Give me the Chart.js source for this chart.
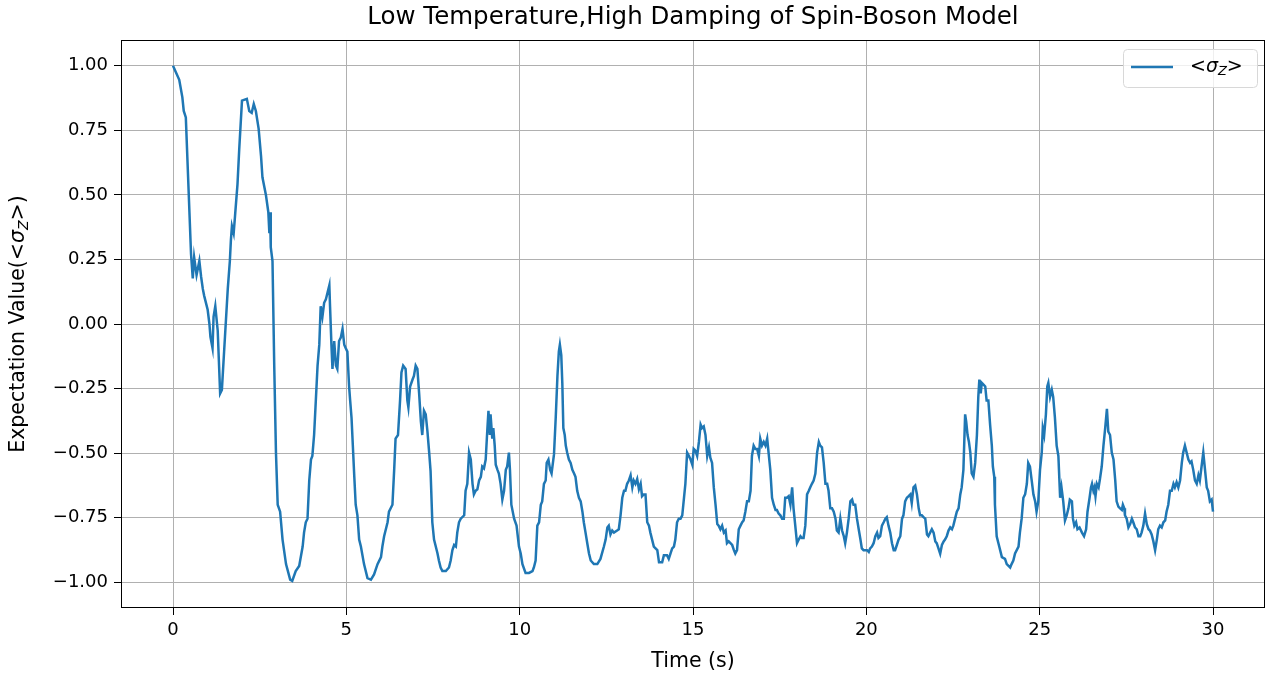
<!DOCTYPE html>
<html lang="en">
<head>
<meta charset="UTF-8">
<title>Spin-Boson Model</title>
<script src="https://cdn.jsdelivr.net/npm/chart.js"></script>
<style>
  html, body { margin: 0; padding: 0; background: #fff; }
  #wrap { width: 1274px; height: 677px; position: relative; }
</style>
</head>
<body>
<div id="wrap"><canvas id="chart"></canvas></div>
<script>
// time axis (s) and <sigma_z>
const times = [
  0.00, 0.18, 0.27, 0.31, 0.37, 0.52, 0.57, 0.61, 0.68, 0.76, 0.81, 0.86, 0.90, 1.00, 1.05, 1.08, 1.14, 1.17, 1.22, 1.29,
  1.36, 1.41, 1.48, 1.58, 1.64, 1.67, 1.70, 1.75, 1.79, 1.86, 1.91, 1.99, 2.13, 2.20, 2.27, 2.33, 2.39, 2.47, 2.54, 2.58,
  2.68, 2.75, 2.78, 2.80, 2.82, 2.87, 2.92, 2.97, 3.02, 3.09, 3.16, 3.26, 3.38, 3.44,
  3.54, 3.64, 3.74, 3.78, 3.83, 3.88, 3.93, 3.98, 4.02, 4.07, 4.12, 4.17, 4.22, 4.26, 4.31, 4.36, 4.41, 4.46, 4.51, 4.53,
  4.57, 4.60, 4.65, 4.70, 4.74, 4.79, 4.84, 4.89, 4.94, 4.98, 5.03, 5.08, 5.11, 5.15, 5.23, 5.27, 5.32, 5.37, 5.42, 5.51,
  5.61, 5.71, 5.80, 5.90, 6.00, 6.04, 6.09, 6.19, 6.23, 6.33, 6.38, 6.42, 6.49, 6.55, 6.59, 6.64, 6.71, 6.76, 6.79, 6.84,
  6.91, 6.95, 7.00, 7.05, 7.10, 7.15, 7.19, 7.24, 7.29, 7.34, 7.39, 7.43, 7.48, 7.53, 7.58, 7.63, 7.67, 7.72, 7.77, 7.87,
  7.96, 8.01, 8.06, 8.11, 8.16, 8.20, 8.25, 8.30, 8.40, 8.44, 8.49, 8.54, 8.59, 8.64, 8.68, 8.73, 8.78, 8.83, 8.88, 8.92,
  8.97, 9.02, 9.07, 9.10, 9.14, 9.16, 9.21, 9.24, 9.28, 9.31, 9.36, 9.40, 9.45, 9.50, 9.55, 9.60, 9.64, 9.69, 9.72, 9.76,
  9.84, 9.91, 9.98, 10.03, 10.08, 10.17, 10.27, 10.37, 10.41, 10.46, 10.51, 10.56, 10.61, 10.65, 10.70, 10.75, 10.78, 10.83, 10.88, 10.92,
  10.99, 11.04, 11.09, 11.13, 11.16, 11.20, 11.23, 11.26, 11.30, 11.33, 11.37, 11.42, 11.47, 11.52, 11.57, 11.61, 11.66, 11.71, 11.76, 11.81,
  11.85, 11.90, 11.95, 12.00, 12.05, 12.14, 12.24, 12.33, 12.43, 12.48, 12.53, 12.57, 12.62, 12.67, 12.72, 12.81, 12.86, 12.91, 12.96, 13.01,
  13.05, 13.10, 13.15, 13.20, 13.25, 13.29, 13.34, 13.39, 13.44, 13.49, 13.53, 13.58, 13.63, 13.68, 13.73, 13.77, 13.82, 13.87, 13.92, 13.97,
  14.02, 14.11, 14.16, 14.25, 14.30, 14.35, 14.40, 14.45, 14.49, 14.54, 14.59, 14.64, 14.69, 14.74, 14.78, 14.83, 14.88, 14.93, 14.98, 15.02,
  15.07, 15.12, 15.17, 15.22, 15.26, 15.31, 15.36, 15.41, 15.46, 15.50, 15.55, 15.60, 15.65, 15.70, 15.74, 15.79, 15.84, 15.89, 15.94, 15.98,
  16.03, 16.08, 16.13, 16.18, 16.22, 16.27, 16.32, 16.37, 16.42, 16.46, 16.51, 16.56, 16.61, 16.66, 16.70, 16.75, 16.80, 16.85, 16.90, 16.94,
  16.99, 17.04, 17.09, 17.14, 17.18, 17.23, 17.28, 17.33, 17.38, 17.42, 17.47, 17.52, 17.57, 17.62, 17.66, 17.71, 17.76, 17.81, 17.86, 17.90,
  17.95, 18.00, 18.05, 18.10, 18.14, 18.19, 18.24, 18.29, 18.34, 18.38, 18.43, 18.48, 18.53, 18.58, 18.63, 18.67, 18.72, 18.77, 18.82, 18.87,
  18.91, 18.96, 19.01, 19.06, 19.11, 19.15, 19.20, 19.25, 19.30, 19.35, 19.39, 19.44, 19.49, 19.54, 19.59, 19.63, 19.68, 19.73, 19.78, 19.83,
  19.87, 19.92, 20.02, 20.07, 20.11, 20.16, 20.21, 20.26, 20.31, 20.35, 20.40, 20.45, 20.50, 20.55, 20.59, 20.64, 20.69, 20.74, 20.79, 20.83,
  20.88, 20.93, 20.98, 21.03, 21.07, 21.12, 21.17, 21.22, 21.27, 21.31, 21.36, 21.41, 21.46, 21.51, 21.55, 21.60, 21.65, 21.70, 21.75, 21.79,
  21.84, 21.89, 21.94, 21.99, 22.03, 22.08, 22.13, 22.18, 22.23, 22.27, 22.32, 22.37, 22.42, 22.47, 22.51, 22.56, 22.61, 22.66, 22.71, 22.75,
  22.80, 22.85, 22.88, 22.92, 22.96, 23.00, 23.04, 23.09, 23.14, 23.19, 23.23, 23.26, 23.30, 23.33, 23.38, 23.43, 23.47, 23.52, 23.57, 23.62,
  23.65, 23.69, 23.71, 23.76, 23.81, 23.86, 23.91, 24.00, 24.05, 24.15, 24.19, 24.24, 24.29, 24.39, 24.43, 24.48, 24.53, 24.58, 24.63, 24.67,
  24.72, 24.77, 24.82, 24.87, 24.91, 24.96, 25.01, 25.06, 25.09, 25.13, 25.18, 25.22, 25.25, 25.30, 25.35, 25.39, 25.44, 25.49, 25.54, 25.59,
  25.63, 25.68, 25.73, 25.78, 25.83, 25.87, 25.93, 25.96, 26.00, 26.05, 26.09, 26.15, 26.22, 26.28, 26.34, 26.38, 26.44, 26.48, 26.51, 26.55,
  26.58, 26.61, 26.65, 26.70, 26.74, 26.79, 26.84, 26.89, 26.94, 26.98, 27.03, 27.08, 27.13, 27.18, 27.22, 27.27, 27.32, 27.37, 27.40, 27.44,
  27.46, 27.51, 27.56, 27.61, 27.66, 27.70, 27.75, 27.80, 27.85, 27.90, 27.94, 27.99, 28.04, 28.09, 28.14, 28.18, 28.23, 28.28, 28.33, 28.38,
  28.42, 28.47, 28.52, 28.57, 28.62, 28.66, 28.71, 28.76, 28.81, 28.86, 28.90, 28.95, 29.00, 29.05, 29.10, 29.14, 29.19, 29.24, 29.29, 29.34,
  29.38, 29.43, 29.48, 29.53, 29.58, 29.62, 29.67, 29.72, 29.77, 29.82, 29.86, 29.91, 29.96, 30.00
];
const sigmaZ = [
  1.000, 0.946, 0.878, 0.825, 0.800, 0.271, 0.177, 0.258, 0.190, 0.244, 0.184, 0.136, 0.109, 0.055, 0.001, -0.050, -0.093, 0.028, 0.069, -0.026,
  -0.269, -0.255, -0.093, 0.136, 0.244, 0.325, 0.379, 0.352, 0.420, 0.541, 0.676, 0.865, 0.872, 0.825, 0.818, 0.852, 0.825, 0.757, 0.649, 0.568,
  0.500, 0.433, 0.352, 0.433, 0.298, 0.244, -0.160, -0.498, -0.700, -0.727, -0.835, -0.930, -0.990, -0.995,
  -0.957, -0.937, -0.862, -0.808, -0.768, -0.754, -0.606, -0.525, -0.511, -0.430, -0.296, -0.161, -0.080, 0.069, 0.028, 0.082, 0.096, 0.123, 0.150, 0.069,
  -0.080, -0.174, -0.066, -0.161, -0.174, -0.066, -0.053, -0.019, -0.080, -0.093, -0.107, -0.242, -0.296, -0.363, -0.592, -0.700, -0.741, -0.835, -0.862, -0.930,
  -0.984, -0.990, -0.970, -0.930, -0.903, -0.862, -0.822, -0.768, -0.727, -0.700, -0.565, -0.444, -0.430, -0.296, -0.188, -0.161, -0.174, -0.296, -0.323, -0.242,
  -0.215, -0.201, -0.161, -0.174, -0.269, -0.377, -0.430, -0.336, -0.350, -0.417, -0.498, -0.570, -0.768, -0.835, -0.862, -0.889, -0.916, -0.943, -0.957, -0.957,
  -0.943, -0.916, -0.876, -0.856, -0.862, -0.808, -0.768, -0.754, -0.741, -0.646, -0.619, -0.498, -0.525, -0.619, -0.660, -0.646, -0.640, -0.606, -0.592, -0.552,
  -0.559, -0.525, -0.403, -0.336, -0.430, -0.350, -0.444, -0.403, -0.471, -0.545, -0.565, -0.579, -0.619, -0.680, -0.646, -0.565, -0.552, -0.498, -0.565, -0.700,
  -0.754, -0.781, -0.862, -0.889, -0.930, -0.964, -0.964, -0.957, -0.943, -0.916, -0.781, -0.768, -0.700, -0.687, -0.619, -0.606, -0.538, -0.525, -0.565, -0.579,
  -0.505, -0.363, -0.200, -0.107, -0.080, -0.120, -0.228, -0.403, -0.430, -0.471, -0.498, -0.525, -0.538, -0.565, -0.579, -0.592, -0.646, -0.673, -0.687, -0.727,
  -0.768, -0.808, -0.849, -0.889, -0.916, -0.930, -0.930, -0.910, -0.862, -0.835, -0.788, -0.781, -0.815, -0.800, -0.808, -0.800, -0.795, -0.741, -0.673, -0.646,
  -0.646, -0.619, -0.606, -0.586, -0.633, -0.606, -0.619, -0.600, -0.640, -0.619, -0.667, -0.660, -0.660, -0.768, -0.781, -0.808, -0.835, -0.862, -0.869, -0.876,
  -0.923, -0.923, -0.896, -0.896, -0.910, -0.889, -0.869, -0.862, -0.835, -0.768, -0.754, -0.754, -0.741, -0.673, -0.619, -0.498, -0.511, -0.525, -0.545, -0.484,
  -0.491, -0.511, -0.457, -0.390, -0.403, -0.397, -0.430, -0.511, -0.478, -0.518, -0.538, -0.633, -0.700, -0.775, -0.781, -0.795, -0.781, -0.808, -0.800, -0.849,
  -0.842, -0.849, -0.856, -0.876, -0.889, -0.876, -0.795, -0.781, -0.768, -0.761, -0.727, -0.687, -0.687, -0.646, -0.511, -0.471, -0.484, -0.484, -0.511, -0.444,
  -0.471, -0.457, -0.471, -0.444, -0.498, -0.565, -0.673, -0.700, -0.720, -0.720, -0.734, -0.741, -0.754, -0.754, -0.673, -0.673, -0.667, -0.700, -0.633, -0.714,
  -0.781, -0.849, -0.835, -0.822, -0.829, -0.829, -0.781, -0.660, -0.646, -0.633, -0.619, -0.606, -0.579, -0.498, -0.457, -0.471, -0.478, -0.538, -0.619, -0.619,
  -0.646, -0.714, -0.714, -0.727, -0.754, -0.800, -0.808, -0.754, -0.800, -0.822, -0.849, -0.808, -0.754, -0.687, -0.680, -0.700, -0.700, -0.754, -0.795, -0.835,
  -0.869, -0.876, -0.876, -0.883, -0.869, -0.862, -0.849, -0.822, -0.808, -0.829, -0.822, -0.781, -0.768, -0.754, -0.748, -0.781, -0.808, -0.849, -0.876, -0.876,
  -0.856, -0.835, -0.822, -0.754, -0.741, -0.687, -0.673, -0.667, -0.660, -0.694, -0.633, -0.626, -0.660, -0.714, -0.741, -0.741, -0.748, -0.754, -0.815, -0.822,
  -0.808, -0.795, -0.808, -0.842, -0.849, -0.869, -0.890, -0.856, -0.842, -0.835, -0.822, -0.800, -0.788, -0.795, -0.781, -0.754, -0.727, -0.714, -0.660, -0.633,
  -0.565, -0.350, -0.377, -0.430, -0.457, -0.498, -0.579, -0.592, -0.538, -0.430, -0.282, -0.215, -0.269, -0.228, -0.235, -0.242, -0.296, -0.296, -0.390, -0.471,
  -0.552, -0.592, -0.700, -0.822, -0.849, -0.876, -0.903, -0.910, -0.930, -0.943, -0.930, -0.916, -0.889, -0.862, -0.808, -0.754, -0.673, -0.660, -0.619, -0.538,
  -0.552, -0.606, -0.660, -0.687, -0.727, -0.687, -0.565, -0.498, -0.403, -0.430, -0.350, -0.242, -0.228, -0.282, -0.255, -0.282, -0.363, -0.471, -0.511, -0.673,
  -0.633, -0.687, -0.761, -0.741, -0.714, -0.680, -0.687, -0.754, -0.781, -0.768, -0.795, -0.788, -0.808, -0.822, -0.795, -0.727, -0.673, -0.633, -0.619, -0.646,
  -0.633, -0.667, -0.619, -0.633, -0.600, -0.552, -0.471, -0.403, -0.329, -0.417, -0.430, -0.498, -0.525, -0.606, -0.687, -0.707, -0.714, -0.720, -0.700, -0.714,
  -0.741, -0.754, -0.788, -0.775, -0.754, -0.768, -0.788, -0.795, -0.822, -0.822, -0.808, -0.781, -0.734, -0.775, -0.795, -0.800, -0.815, -0.842, -0.876, -0.835,
  -0.795, -0.781, -0.788, -0.768, -0.761, -0.727, -0.700, -0.646, -0.646, -0.619, -0.633, -0.613, -0.633, -0.606, -0.538, -0.498, -0.471, -0.498, -0.525, -0.538,
  -0.532, -0.565, -0.606, -0.619, -0.586, -0.606, -0.552, -0.498, -0.565, -0.633, -0.646, -0.687, -0.680, -0.727
];

const xTicks = [0, 5, 10, 15, 20, 25, 30];
const yTicks = [-1, -0.75, -0.5, -0.25, 0, 0.25, 0.5, 0.75, 1];

const chartTitle = 'Low Temperature,High Damping of Spin-Boson Model';
const xLabel = 'Time (s)';
const yLabelParts = ['Expectation Value(<', 'σ', 'Z', '>)'];
const legendParts = ['<', 'σ', 'Z', '>'];

const FONT = '"DejaVu Sans", "Liberation Sans", sans-serif';
const LINE = '#1f77b4';

// text with an italic sigma and a subscript Z
function drawSigmaText(ctx, parts, x, y, size) {
  const segs = [
    { t: parts[0], f: size + 'px ' + FONT, dy: 0 },
    { t: parts[1], f: 'italic ' + size + 'px ' + FONT, dy: 0 },
    { t: parts[2], f: 'italic ' + Math.round(size * 0.7) + 'px ' + FONT, dy: size * 0.25 },
    { t: parts[3], f: size + 'px ' + FONT, dy: 0 }
  ];
  let total = 0;
  segs.forEach(s => { ctx.font = s.f; s.w = ctx.measureText(s.t).width; total += s.w; });
  let cx = x;
  ctx.textAlign = 'left';
  ctx.textBaseline = 'middle';
  segs.forEach(s => { ctx.font = s.f; ctx.fillText(s.t, cx, y + s.dy); cx += s.w; });
  return total;
}

function measureSigma(ctx, parts, size) {
  let total = 0;
  [[parts[0], size + 'px '], [parts[1], 'italic ' + size + 'px '], [parts[2], 'italic ' + Math.round(size * 0.7) + 'px '], [parts[3], size + 'px ']]
    .forEach(p => { ctx.font = p[1] + FONT; total += ctx.measureText(p[0]).width; });
  return total;
}

const decor = {
  id: 'decor',
  afterDraw(chart) {
    const { ctx, chartArea: a } = chart;
    ctx.save();
    // frame
    ctx.strokeStyle = '#000';
    ctx.lineWidth = 1;
    ctx.strokeRect(a.left + 0.5, a.top + 0.5, a.right - a.left - 1, a.bottom - a.top - 1);

    ctx.fillStyle = '#000';
    // title
    ctx.font = '24.5px ' + FONT;
    ctx.textAlign = 'center';
    ctx.textBaseline = 'middle';
    ctx.fillText(chartTitle, (a.left + a.right) / 2, 18);
    // x label
    ctx.font = '20.5px ' + FONT;
    ctx.fillText(xLabel, (a.left + a.right) / 2, 662);
    // y label
    ctx.save();
    ctx.translate(19, (a.top + a.bottom) / 2);
    ctx.rotate(-Math.PI / 2);
    const w = measureSigma(ctx, yLabelParts, 20.5);
    drawSigmaText(ctx, yLabelParts, -w / 2, 0, 20.5);
    ctx.restore();

    // legend
    const lx = 1123, ly = 49, lw = 134, lh = 38;
    ctx.fillStyle = 'rgba(255,255,255,0.8)';
    ctx.strokeStyle = '#d8d8d8';
    ctx.lineWidth = 1;
    ctx.beginPath();
    ctx.roundRect(lx + 0.5, ly + 0.5, lw, lh, 4);
    ctx.fill();
    ctx.stroke();
    ctx.strokeStyle = LINE;
    ctx.lineWidth = 2.5;
    ctx.beginPath();
    ctx.moveTo(1131, 67);
    ctx.lineTo(1173, 67);
    ctx.stroke();
    ctx.fillStyle = '#000';
    drawSigmaText(ctx, legendParts, 1190, 67, 19);
    ctx.restore();
  }
};

new Chart(document.getElementById('chart'), {
  type: 'line',
  data: {
    datasets: [{
      label: '<σZ>',
      data: times.map((t, i) => ({ x: t, y: sigmaZ[i] })),
      borderColor: LINE,
      borderWidth: 2.5,
      pointRadius: 0,
      tension: 0,
      fill: false
    }]
  },
  options: {
    responsive: true,
    maintainAspectRatio: false,
    animation: false,
    layout: { padding: { left: 0, right: 9, top: 40, bottom: 0 } },
    plugins: {
      legend: { display: false },
      title: { display: false },
      tooltip: { enabled: false }
    },
    scales: {
      x: {
        type: 'linear',
        min: -1.5,
        max: 31.5,
        afterBuildTicks: s => { s.ticks = xTicks.map(v => ({ value: v })); },
        afterFit: s => { s.height = 69; },
        border: { display: false },
        grid: { color: '#b0b0b0', lineWidth: 1, tickColor: '#000', tickLength: 7 },
        ticks: {
          color: '#000',
          font: { family: FONT, size: 18 },
          padding: 5,
          maxRotation: 0,
          callback: v => String(v)
        }
      },
      y: {
        min: -1.1,
        max: 1.1,
        afterBuildTicks: s => { s.ticks = yTicks.map(v => ({ value: v })); },
        afterFit: s => { s.width = 121; },
        border: { display: false },
        grid: { color: '#b0b0b0', lineWidth: 1, tickColor: '#000', tickLength: 7 },
        ticks: {
          color: '#000',
          font: { family: FONT, size: 18 },
          padding: 6,
          callback: v => v.toFixed(2).replace('-', '\u2212')
        }
      }
    }
  },
  plugins: [decor]
});
</script>
</body>
</html>
